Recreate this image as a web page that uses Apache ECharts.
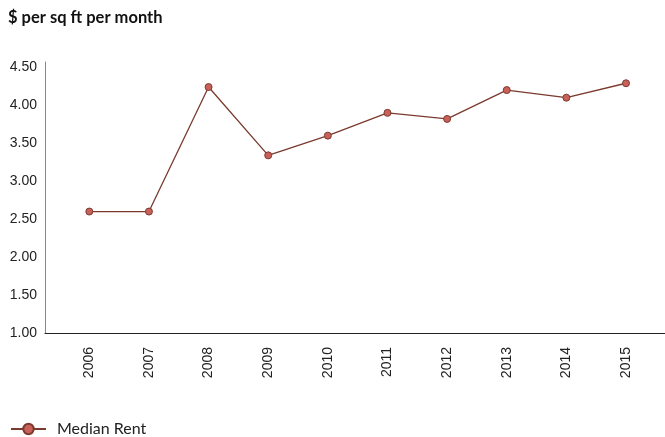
<!DOCTYPE html>
<html><head><meta charset="utf-8">
<script src="https://cdn.jsdelivr.net/npm/echarts@6/dist/echarts.min.js"></script>
<style>html,body{margin:0;padding:0;background:#fff}#c{width:665px;height:437px}</style>
</head><body><div id="c"></div>
<script>
const years = [2006, 2007, 2008, 2009, 2010, 2011, 2012, 2013, 2014, 2015];
const medianRent = [2.60, 2.60, 4.24, 3.34, 3.60, 3.90, 3.82, 4.20, 4.10, 4.29];
const yTicks = [1.0, 1.5, 2.0, 2.5, 3.0, 3.5, 4.0, 4.5];
const seriesName = 'Median Rent';
const titleText = '$ per sq ft per month';

const chart = echarts.init(document.getElementById('c'), null, {renderer: 'canvas'});
chart.setOption({
  animation: false,
  title: {
    text: titleText, left: 8, top: 9, padding: 0,
    textStyle: {fontFamily: 'Lato', fontWeight: 'bold', fontSize: 16.5, color: '#111'}
  },
  legend: {
    left: 10, top: 421, padding: 0, itemWidth: 35, itemHeight: 13, itemGap: 10,
    textStyle: {fontFamily: 'Lato', fontSize: 16, color: '#222', padding: [0, 0, 0, 6]},
    data: [seriesName]
  },
  grid: {left: 45, top: 62, right: 0, bottom: 104, containLabel: false},
  xAxis: {
    type: 'value', min: 2005.257, max: 2015.654,
    axisLine: {show: true, lineStyle: {color: '#222', width: 1}},
    axisTick: {show: false},
    splitLine: {show: false},
    axisLabel: {
      customValues: years, rotate: 90, margin: 14,
      fontFamily: 'Liberation Sans', fontSize: 14, color: '#222',
      formatter: v => String(Math.round(v))
    }
  },
  yAxis: {
    type: 'value', min: 1.0, max: 4.57,
    axisLine: {show: true, lineStyle: {color: '#888', width: 1}},
    axisTick: {show: false},
    splitLine: {show: false},
    axisLabel: {
      customValues: yTicks, margin: 8,
      fontFamily: 'Liberation Sans', fontSize: 14, color: '#222',
      formatter: v => v.toFixed(2)
    }
  },
  series: [{
    name: seriesName, type: 'line',
    data: years.map((y, i) => [y, medianRent[i]]),
    symbol: 'circle', symbolSize: 7,
    lineStyle: {color: '#7a3a2e', width: 1.3},
    itemStyle: {color: '#c9605a', borderColor: '#7a3a2e', borderWidth: 1}
  }]
});
</script></body></html>
